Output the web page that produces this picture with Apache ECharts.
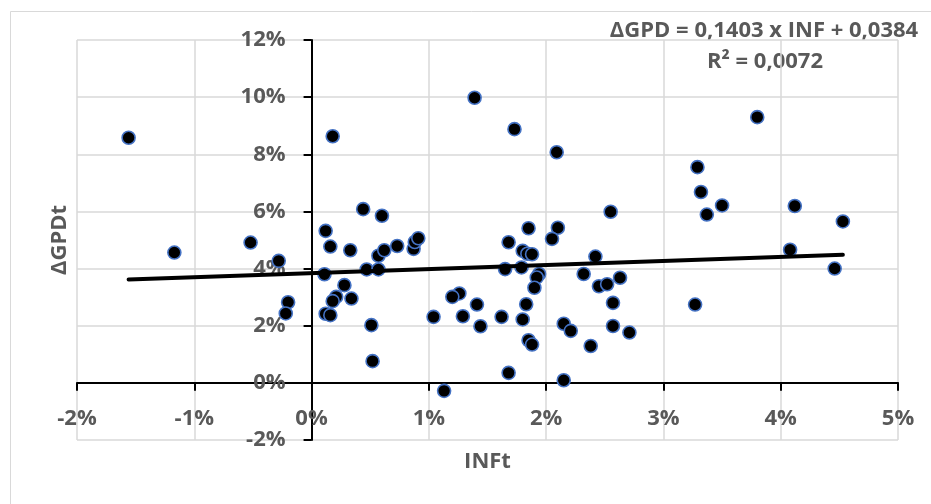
<!DOCTYPE html>
<html>
<head>
<meta charset="utf-8">
<script src="https://cdn.jsdelivr.net/npm/echarts@6/dist/echarts.min.js"></script>
<style>
html,body{margin:0;padding:0;background:#fff;}
#c{width:931px;height:504px;}
</style>
</head>
<body>
<div id="c"></div>
<script>
// INF (x, %) values
const infValues = [
  -1.56, -1.17, -0.52, -0.28, -0.20, -0.22, 0.18, 0.44, 0.60, 0.12,
  0.16, 0.33, 0.11, 0.47, 0.57, 0.57, 0.62, 0.73, 0.87, 0.88,
  0.91, 0.28, 0.21, 0.18, 0.34, 0.12, 0.16, 0.51, 0.52, 1.39,
  1.73, 2.09, 2.55, 1.85, 2.10, 2.05, 1.68, 1.80, 1.84, 1.88,
  1.65, 1.79, 1.94, 1.92, 1.90, 1.83, 1.80, 1.62, 1.41, 1.44,
  1.29, 1.26, 1.20, 1.04, 1.13, 1.68, 1.85, 1.88, 2.15, 2.15,
  2.21, 2.38, 2.57, 2.71, 2.57, 2.45, 2.52, 2.63, 2.32, 2.42,
  3.80, 3.29, 3.32, 3.37, 3.50, 4.12, 4.53, 4.08, 4.46, 3.27
];
// ΔGPD (y, %) values
const gpdValues = [
  8.58, 4.56, 4.91, 4.27, 2.82, 2.43, 8.63, 6.08, 5.85, 5.32,
  4.77, 4.64, 3.80, 3.97, 3.97, 4.45, 4.64, 4.79, 4.69, 4.93,
  5.06, 3.42, 3.01, 2.86, 2.95, 2.42, 2.37, 2.02, 0.76, 9.98,
  8.88, 8.07, 5.99, 5.41, 5.43, 5.04, 4.92, 4.62, 4.52, 4.50,
  3.98, 4.04, 3.81, 3.69, 3.33, 2.75, 2.22, 2.31, 2.74, 1.98,
  2.33, 3.13, 3.01, 2.31, -0.28, 0.35, 1.49, 1.34, 0.09, 2.07,
  1.82, 1.29, 1.99, 1.76, 2.80, 3.38, 3.45, 3.68, 3.81, 4.42,
  9.30, 7.55, 6.68, 5.89, 6.21, 6.19, 5.65, 4.66, 4.00, 2.74
];
// trend line end points
const trendX = [-1.56, 4.53];
const trendY = [3.62, 4.48];
// axis settings
const xTicks = { min: -2, max: 5, interval: 1 };
const yTicks = { min: -2, max: 12, interval: 2 };
const xTitle = 'INFt';
const yTitle = 'ΔGPDt';
const equationLines = ['ΔGPD = 0,1403 x INF + 0,0384', 'R² = 0,0072'];

const FONT = '"Open Sans", "DejaVu Sans", sans-serif';
const GREY = '#595959';

const GRID = { left: 77, right: 33, top: 40, bottom: 64 };
const plotW = 931 - GRID.left - GRID.right;
const plotH = 504 - GRID.top - GRID.bottom;
// shift axes so they cross at zero (like Excel)
const xAxisOffset = -plotH * (0 - yTicks.min) / (yTicks.max - yTicks.min);
const yAxisOffset = -plotW * (0 - xTicks.min) / (xTicks.max - xTicks.min);

const scatterData = infValues.map((x, i) => [x, gpdValues[i]]);
const trendData = trendX.map((x, i) => [x, trendY[i]]);

const chart = echarts.init(document.getElementById('c'), null, { renderer: 'canvas' });
chart.setOption({
  animation: false,
  backgroundColor: '#ffffff',
  grid: { left: GRID.left, right: GRID.right, top: GRID.top, bottom: GRID.bottom, containLabel: false },
  xAxis: {
    type: 'value',
    position: 'bottom',
    offset: xAxisOffset,
    min: xTicks.min, max: xTicks.max, interval: xTicks.interval,
    axisLine: { show: true, onZero: false, lineStyle: { color: '#000', width: 2 } },
    axisTick: { show: true, inside: false, length: 8, lineStyle: { color: '#000', width: 2 } },
    axisLabel: { formatter: '{value}%', color: GREY, fontFamily: FONT, fontWeight: 'bold', fontSize: 22, margin: 25 },
    splitLine: { show: true, lineStyle: { color: '#d9d9d9', width: 1.5 } }
  },
  yAxis: {
    type: 'value',
    position: 'left',
    offset: yAxisOffset,
    min: yTicks.min, max: yTicks.max, interval: yTicks.interval,
    axisLine: { show: true, onZero: false, lineStyle: { color: '#000', width: 2 } },
    axisTick: { show: true, inside: false, length: 8, lineStyle: { color: '#000', width: 2 } },
    axisLabel: { formatter: '{value}%', color: GREY, fontFamily: FONT, fontWeight: 'bold', fontSize: 22, margin: 26 },
    splitLine: { show: true, lineStyle: { color: '#d9d9d9', width: 1.5 } }
  },
  series: [
    {
      type: 'scatter',
      data: scatterData,
      symbol: 'circle',
      symbolSize: 13,
      itemStyle: { color: '#000000', borderColor: '#4472C4', borderWidth: 1.6, opacity: 1 },
      z: 3
    },
    {
      type: 'line',
      data: trendData,
      showSymbol: false,
      symbol: 'none',
      lineStyle: { color: '#000000', width: 4, cap: 'round' },
      z: 4
    }
  ],
  graphic: [
    { type: 'rect', left: 8, top: 9, shape: { width: 1000, height: 1000 }, style: { fill: 'none', stroke: '#d9d9d9', lineWidth: 1 }, silent: true, z: -10 },
    { type: 'text', x: 487.5, y: 462, style: { text: xTitle, fill: GREY, font: 'bold 22px ' + FONT, align: 'center', verticalAlign: 'middle' } },
    { type: 'text', x: 60, y: 240, rotation: Math.PI / 2, style: { text: yTitle, fill: GREY, font: 'bold 22px ' + FONT, align: 'center', verticalAlign: 'middle' } },
    { type: 'text', x: 764, y: 31, style: { text: equationLines[0], fill: GREY, font: 'bold 22px ' + FONT, align: 'center', verticalAlign: 'middle' } },
    { type: 'text', x: 765, y: 62, style: { text: equationLines[1], fill: GREY, font: 'bold 22px ' + FONT, align: 'center', verticalAlign: 'middle' } }
  ]
});
</script>
</body>
</html>
